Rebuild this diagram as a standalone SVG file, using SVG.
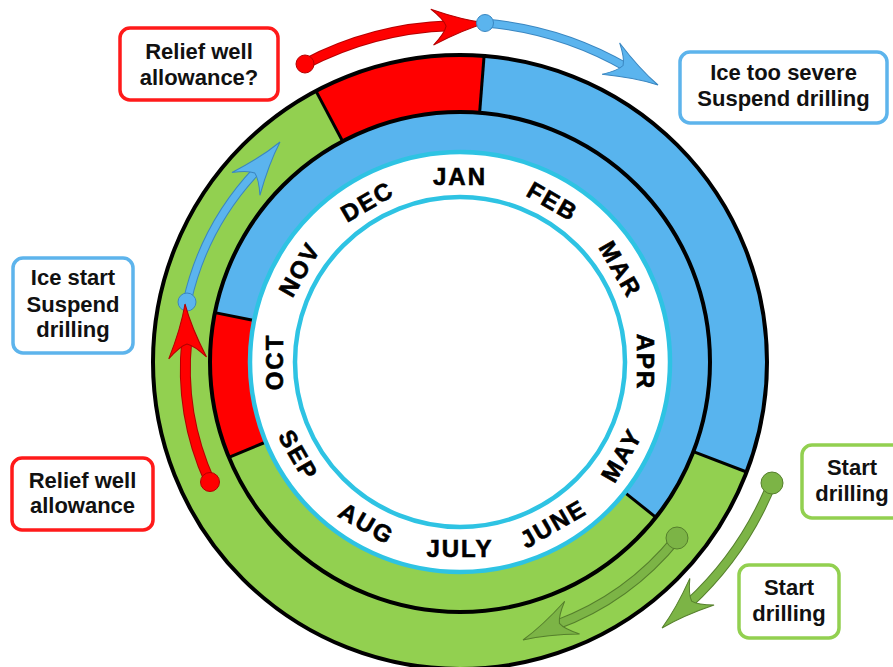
<svg xmlns="http://www.w3.org/2000/svg" xmlns:xlink="http://www.w3.org/1999/xlink" width="893" height="667" viewBox="0 0 893 667">
<style>
.lbl{font-family:"Liberation Sans",Arial,sans-serif;font-weight:bold;font-size:22px;fill:#111;text-anchor:middle}
.mon{font-family:"Liberation Sans",Arial,sans-serif;font-weight:bold;font-size:24px;fill:#000;stroke:#000;stroke-width:0.6;text-anchor:middle;letter-spacing:2px}
.box{fill:#fff;stroke-width:3.5}
.bred{stroke:#ff1a1a}.bblue{stroke:#5db4ec}.bgreen{stroke:#92d050}
.ring{stroke:#000;stroke-width:4;fill:none}
.div{stroke:#000;stroke-width:3}
.cyan{stroke:#2ec3e3;stroke-width:4.5}
.rO{fill:none;stroke:#b30000;stroke-width:11}.rS{fill:none;stroke:#ff0000;stroke-width:9}
.bO{fill:none;stroke:#3a86c0;stroke-width:9}.bS{fill:none;stroke:#5bb4ee;stroke-width:7}
.gO{fill:none;stroke:#557f2c;stroke-width:10}.gS{fill:none;stroke:#7cb446;stroke-width:8}
.rF{fill:#ff0000;stroke:#b30000;stroke-width:1}
.bF{fill:#5bb4ee;stroke:#3a86c0;stroke-width:1}
.gF{fill:#7cb446;stroke:#557f2c;stroke-width:1}
</style>
<defs>
<path id="head" d="M0,0 Q-24,-5 -54,-18 Q-42,-7 -40,0 Q-42,7 -54,18 Q-24,5 0,0 Z"/>
</defs>
<rect width="893" height="667" fill="#fff"/>

<g id="wheel">
<path d="M315.9,90.9 A307,307 0 0 1 484.1,55.9 L479.6,112.8 A250,250 0 0 0 342.6,141.3 Z" fill="#ff0000"/>
<path d="M484.1,55.9 A307,307 0 0 1 746.6,472.0 L693.4,451.6 A250,250 0 0 0 479.6,112.8 Z" fill="#58b4ee"/>
<path d="M746.6,472.0 A307,307 0 1 1 315.9,90.9 L342.6,141.3 A250,250 0 1 0 693.4,451.6 Z" fill="#92d050"/>
<path d="M214.9,312.6 A250,250 0 1 1 655.9,517.3 L624.6,492.4 A210,210 0 1 0 254.1,320.5 Z" fill="#58b4ee"/>
<path d="M655.9,517.3 A250,250 0 0 1 228.9,457.3 L265.9,442.0 A210,210 0 0 0 624.6,492.4 Z" fill="#92d050"/>
<path d="M228.9,457.3 A250,250 0 0 1 214.9,312.6 L254.1,320.5 A210,210 0 0 0 265.9,442.0 Z" fill="#ff0000"/>
<circle class="ring" cx="460" cy="362" r="307"/>
<circle class="ring" cx="460" cy="362" r="250"/>
<line class="div" x1="315.9" y1="90.9" x2="342.6" y2="141.3"/>
<line class="div" x1="484.1" y1="55.9" x2="479.6" y2="112.8"/>
<line class="div" x1="746.6" y1="472.0" x2="693.4" y2="451.6"/>
<line class="div" x1="214.9" y1="312.6" x2="254.1" y2="320.5"/>
<line class="div" x1="655.9" y1="517.3" x2="624.6" y2="492.4"/>
<line class="div" x1="228.9" y1="457.3" x2="265.9" y2="442.0"/>
<circle class="cyan" cx="460" cy="362" r="210" fill="#fff"/>
<circle class="cyan" cx="460" cy="362" r="165" fill="#fff"/>
</g>

<g id="months">
<text class="mon" x="460" y="185">JAN</text>
<text class="mon" x="460" y="185" transform="rotate(30 460 362)">FEB</text>
<text class="mon" x="460" y="185" transform="rotate(60 460 362)">MAR</text>
<text class="mon" x="460" y="185" transform="rotate(90 460 362)">APR</text>
<text class="mon" x="460" y="557" transform="rotate(-60 460 362)">MAY</text>
<text class="mon" x="460" y="557" transform="rotate(-30 460 362)">JUNE</text>
<text class="mon" x="460" y="557">JULY</text>
<text class="mon" x="460" y="557" transform="rotate(30 460 362)">AUG</text>
<text class="mon" x="460" y="557" transform="rotate(60 460 362)">SEP</text>
<text class="mon" x="460" y="185" transform="rotate(-90 460 362)">OCT</text>
<text class="mon" x="460" y="185" transform="rotate(-60 460 362)">NOV</text>
<text class="mon" x="460" y="185" transform="rotate(-30 460 362)">DEC</text>
</g>

<g id="connectors">
<path class="rO" d="M305,64 A336,336 0 0 1 450.1,25.8"/>
<path class="rS" d="M305,64 A336,336 0 0 1 450.1,25.8"/>
<use xlink:href="#head" class="rF" transform="translate(486,23) rotate(-4.4)"/>
<circle class="rF" cx="305" cy="64" r="9"/>

<path class="bO" d="M485,23 A339,339 0 0 1 626.6,67.4"/>
<path class="bS" d="M485,23 A339,339 0 0 1 626.6,67.4"/>
<use xlink:href="#head" class="bF" transform="translate(658,85) rotate(29.2)"/>
<circle class="bF" cx="485" cy="23" r="8.5"/>

<path class="bO" d="M187,302 A279,279 0 0 1 257.3,169.9"/>
<path class="bS" d="M187,302 A279,279 0 0 1 257.3,169.9"/>
<use xlink:href="#head" class="bF" transform="translate(280,142) rotate(-50.9)"/>
<circle class="bF" cx="187" cy="302" r="9"/>

<path class="rO" d="M210,482 A276,276 0 0 1 186.8,340"/>
<path class="rS" d="M210,482 A276,276 0 0 1 186.8,340"/>
<use xlink:href="#head" class="rF" transform="translate(185,304) rotate(-92.8) scale(1,1.05)"/>
<circle class="rF" cx="210" cy="482" r="9.5"/>

<path class="gO" d="M772,483 A334,334 0 0 1 688.6,603.8"/>
<path class="gS" d="M772,483 A334,334 0 0 1 688.6,603.8"/>
<use xlink:href="#head" class="gF" transform="translate(662,628) rotate(137.7)"/>
<circle class="gF" cx="772" cy="483" r="11"/>

<path class="gO" d="M677,538 A280,280 0 0 1 555.8,625.1"/>
<path class="gS" d="M677,538 A280,280 0 0 1 555.8,625.1"/>
<use xlink:href="#head" class="gF" transform="translate(523,640) rotate(155.5)"/>
<circle class="gF" cx="677" cy="538" r="11"/>
</g>

<g id="n-relief-q">
<rect class="box bred" x="120" y="28" width="158" height="72" rx="10"/>
<text class="lbl" x="199" y="59">Relief well</text>
<text class="lbl" x="199" y="85">allowance?</text>
</g>
<g id="n-ice-severe">
<rect class="box bblue" x="680" y="52" width="207" height="71" rx="10"/>
<text class="lbl" x="783.5" y="80">Ice too severe</text>
<text class="lbl" x="783.5" y="106">Suspend drilling</text>
</g>
<g id="n-ice-start">
<rect class="box bblue" x="13" y="258" width="120" height="95" rx="10"/>
<text class="lbl" x="73" y="285">Ice start</text>
<text class="lbl" x="73" y="312">Suspend</text>
<text class="lbl" x="73" y="337">drilling</text>
</g>
<g id="n-relief">
<rect class="box bred" x="12" y="458" width="141" height="72" rx="10"/>
<text class="lbl" x="82.5" y="488">Relief well</text>
<text class="lbl" x="82.5" y="513">allowance</text>
</g>
<g id="n-start1">
<rect class="box bgreen" x="802" y="445" width="100" height="73" rx="10"/>
<text class="lbl" x="852" y="475">Start</text>
<text class="lbl" x="852" y="501">drilling</text>
</g>
<g id="n-start2">
<rect class="box bgreen" x="739" y="565" width="100" height="73" rx="10"/>
<text class="lbl" x="789" y="595">Start</text>
<text class="lbl" x="789" y="621">drilling</text>
</g>
</svg>
